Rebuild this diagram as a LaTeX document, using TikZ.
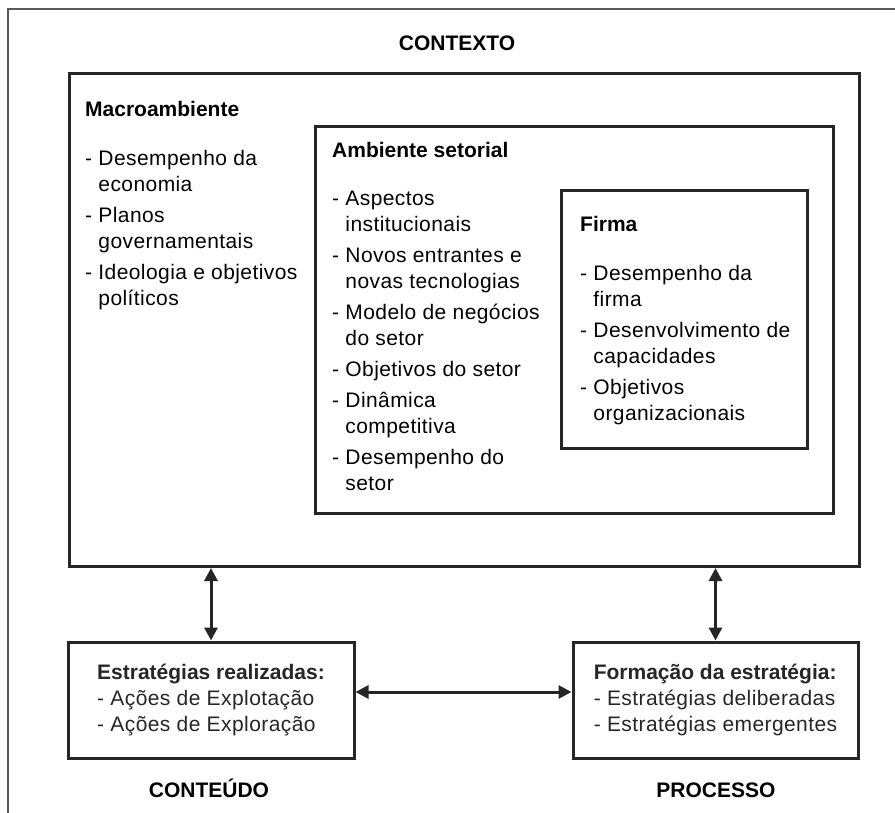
\documentclass[tikz,border=0pt]{standalone}
\usepackage{fontspec}
\setmainfont{Liberation Sans}[UprightFeatures={LetterSpace=2}]
\usetikzlibrary{arrows.meta}

\newcommand\dashsp{\phantom{-\ }}

\begin{document}
\begin{tikzpicture}[x=1pt,y=-1pt,
    every node/.style={font=\fontsize{21}{26}\selectfont, inner sep=0pt},
    box/.style={rectangle, draw, line width=3pt, color=black!85},
    hd/.style={anchor=base west, font=\fontsize{21}{26}\selectfont\bfseries},
    lst/.style={anchor=north west, align=left, execute at begin node=\strut},
    dbl/.style={line width=3pt, color=black!85,
        {Triangle[width=13pt,length=13pt]}-{Triangle[width=13pt,length=13pt]}}]
    \useasboundingbox (0,0) rectangle (895,813);
    \draw[line width=2pt, black!65] (895,9) -- (8,9) -- (8,813);

    % nested context boxes
    \node[box, anchor=north west, minimum width=790pt, minimum height=493pt] (macro) at (68,72) {};
    \node[box, anchor=north west, minimum width=518pt, minimum height=387pt] (setor) at (314,125) {};
    \node[box, anchor=north west, minimum width=246pt, minimum height=258pt] (firma) at (560,189) {};

    \node[hd] (macrohd) at (85,117) {Macroambiente};
    \node[lst] (macrolst) at (85,149.8) {- Desempenho da\\\dashsp economia\\[5pt]
        - Planos\\\dashsp governamentais\\[5pt]
        - Ideologia e objetivos\\\dashsp políticos};

    \node[hd] (setorhd) at (332,158) {Ambiente setorial};
    \node[lst] (setorlst) at (332,190.8) {- Aspectos\\\dashsp institucionais\\[5pt]
        - Novos entrantes e\\\dashsp novas tecnologias\\[5pt]
        - Modelo de negócios\\\dashsp do setor\\[5pt]
        - Objetivos do setor\\[5pt]
        - Dinâmica\\\dashsp competitiva\\[5pt]
        - Desempenho do\\\dashsp setor};

    \node[hd] (firmahd) at (580,232) {Firma};
    \node[lst] (firmalst) at (580,264.8) {- Desempenho da\\\dashsp firma\\[5pt]
        - Desenvolvimento de\\\dashsp capacidades\\[5pt]
        - Objetivos\\\dashsp organizacionais};

    % content and process
    \node[box, minimum width=286pt, minimum height=116pt, align=left] (conteudo) at (211,700)
        {\textbf{Estratégias realizadas:}\\- Ações de Explotação\\- Ações de Exploração};
    \node[box, minimum width=285pt, minimum height=116pt, align=left] (processo) at (715.5,700)
        {\textbf{Formação da estratégia:}\\- Estratégias deliberadas\\- Estratégias emergentes};

    \node[hd, anchor=base] (contexto) at (457,51) {CONTEXTO};
    \node[hd, anchor=base] (conteudolbl) at (209,797) {CONTEÚDO};
    \node[hd, anchor=base] (processolbl) at (716,797) {PROCESSO};

    \draw[dbl] (conteudo.north) -- (conteudo.north |- macro.south);
    \draw[dbl] (processo.north) -- (processo.north |- macro.south);
    \draw[dbl] ([yshift=8pt]conteudo.east) -- ([yshift=8pt]processo.west);
\end{tikzpicture}
\end{document}
